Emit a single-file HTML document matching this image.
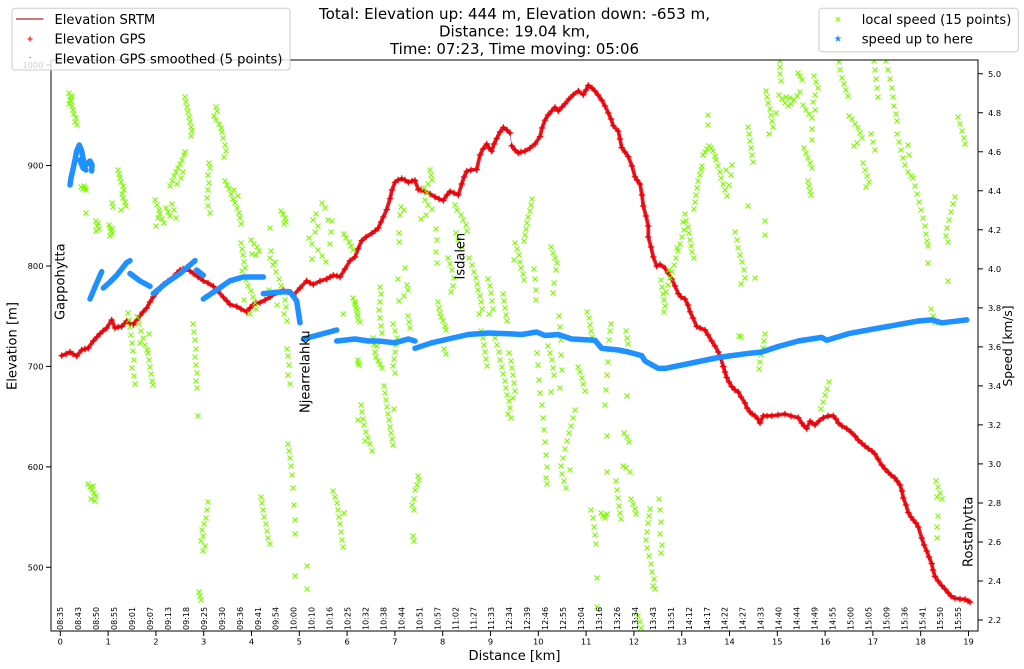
<!DOCTYPE html>
<html><head><meta charset="utf-8"><style>
body{margin:0;background:#fff}
svg{display:block}
text{font-family:"DejaVu Sans","Liberation Sans",sans-serif;fill:#000}
</style></head><body>
<svg width="1024" height="669" viewBox="0 0 1024 669" xmlns="http://www.w3.org/2000/svg">
<defs>
<clipPath id="c"><rect x="51" y="60" width="927" height="571"/></clipPath>
<marker id="pl" markerUnits="userSpaceOnUse" markerWidth="8" markerHeight="8" refX="4" refY="4" overflow="visible"><path d="M0.8 4h6.4M4 0.8v6.4" stroke="#ff0000" stroke-width="1.2" fill="none"/></marker>
<marker id="gx" markerUnits="userSpaceOnUse" markerWidth="7" markerHeight="7" refX="3.5" refY="3.5" overflow="visible"><path d="M1 1L6 6M6 1L1 6" stroke="#7cfc00" stroke-width="1.2" fill="none"/></marker>
</defs>
<rect width="1024" height="669" fill="#fff"/>

<g clip-path="url(#c)">
<g fill="none" stroke-linejoin="round" stroke-linecap="round">
<polyline stroke="#ff1a1a" stroke-width="3.8" marker-start="url(#pl)" marker-mid="url(#pl)" marker-end="url(#pl)" points="61.7,355.6 66,354 70,352 73,354 76.7,356 81.7,350 85,349 88.3,348 93.3,341 97,337 100,333.7 103,331 106.7,328 111.7,320 115,328 118,327 121.7,326.4 126.7,321 130,323 133.3,324.6 137,320 140,315.5 143,312 146.7,308 150,302 153.3,297 158,291 163.3,284.5 168,281 173.3,277 177,273 180,270 183,269 186.7,268.8 190,271 193.3,273.5 198,277 203.3,280.8 208,283 213.3,286.3 218,291 223.3,297.2 227,301 230,304.5 236.7,306.4 241,309 246.7,311.8 250,308 253.3,304.5 256,303 260,302.7 265,300 270,297.2 276,293 283.3,290 288,292 293.3,295.4 300,288 306.7,280.8 310,283 313.3,284.5 320,281 326.7,279 330,277 333.3,275.3 337,276 340,277 345,269 350,260.7 355,257 358,249 361.7,240.7 366,237 371.7,233.4 375,231 378.3,228 381,222 383.3,217 386.7,209.6 390,198.7 392,190 395,182.3 398,180 401.7,178.6 405,180 408.3,182.3 412,181 415,180.4 418.3,189.6 421,190 425,191.4 430,194 435,196.9 439,199 443.3,200.5 447,195 450,191.4 454,193 458.3,195 461.7,184 464,177 466.7,171.3 471,170 476.7,169.5 480,154.9 483,149 486.7,144 489,148 491.7,151.2 494,144 496.7,138.5 500,132 503.3,127.5 507,130 510,133"/>
<polyline stroke="#ff1a1a" stroke-width="3.8" marker-start="url(#pl)" marker-mid="url(#pl)" marker-end="url(#pl)" points="511.7,145.8 515,150 518.3,153 521,152 525,151.2 530,148 535,144 540,136.6 542,128 545,120.2 548,115 551.7,111 555,107.4 558.3,111 562,107 565,103.8 569,99 573.3,94.7 578.3,91 583.3,94.7 586,90 588.3,85.5 592,88 595,91 598,95 601.7,100.1 605,106 608.3,113 611,119 613.3,125.7 618.3,131.2 620,139 621.7,147.6 625,152 628.3,156.7 632,166 635,176.8 637,180 640,184 642,195 643.3,206 646,216 648.3,226 648.3,237 651,247 653.3,257 656.7,266.2 660,264.4 665,268 668,273 671.7,279 675,286 678.3,293.6 681,297 685,299 688,305 690,311.8 693,318 696.7,326.4 700,328 705,330 708,335 711.7,341 715,346 718.3,352 721,359 723.3,366.6 725,372 726.7,377.5 729,382 731.7,386.6 735,390 738.3,392 741,397 745,403 747,408 750,412 752,414 755,415.8 758,419 760,423 763.3,415.8 767,416 771.7,415.8 778,415 785,414 791,416 798.3,417.7 801.7,423 804,426 806.7,428.6 810,421.3 812,423 815,425 819,421 823.3,417.7 828,416 833.3,415.8 836,419 838.3,423 842,426 846.7,428.6 851,432 855,436 858,440 861.7,443.2 865,446 868.3,448.7 872,451 875,454 878,459 881.7,465 885,469 888.3,472.4 891,475 895,478 897,481 900,485 902,491 903.3,498 906,505 908.3,512.6 911,517 913.3,520 916,523 918.3,527 921.7,538 924,545 926.7,551 929,557 931.7,563.6 933,570 935,576.4 938,581 941.7,585.5 945,589 948.3,593 951,596 955,598.3 960,599 965,599.4 968,601 970,602"/>
<polyline stroke="#6a1450" stroke-width="1" stroke-opacity="0.5" points="61.7,355.6 70,352 76.7,356 81.7,350 88.3,348 93.3,341 100,333.7 106.7,328 111.7,320 115,328 121.7,326.4 126.7,321 133.3,324.6 140,315.5 146.7,308 153.3,297 163.3,284.5 173.3,277 180,270 186.7,268.8 193.3,273.5 203.3,280.8 213.3,286.3 223.3,297.2 230,304.5 236.7,306.4 246.7,311.8 253.3,304.5 260,302.7 270,297.2 283.3,290 293.3,295.4 306.7,280.8 313.3,284.5 326.7,279 333.3,275.3 340,277 350,260.7 355,257 361.7,240.7 371.7,233.4 378.3,228 383.3,217 386.7,209.6 390,198.7 395,182.3 401.7,178.6 408.3,182.3 415,180.4 418.3,189.6 425,191.4 435,196.9 443.3,200.5 450,191.4 458.3,195 461.7,184 466.7,171.3 476.7,169.5 480,154.9 486.7,144 491.7,151.2 496.7,138.5 503.3,127.5 510,133 511.7,145.8 518.3,153 525,151.2 535,144 540,136.6 545,120.2 551.7,111 555,107.4 558.3,111 565,103.8 573.3,94.7 578.3,91 583.3,94.7 588.3,85.5 595,91 601.7,100.1 608.3,113 613.3,125.7 618.3,131.2 621.7,147.6 628.3,156.7 635,176.8 640,184 643.3,206 648.3,226 648.3,237 653.3,257 656.7,266.2 660,264.4 665,268 671.7,279 678.3,293.6 685,299 690,311.8 696.7,326.4 705,330 711.7,341 718.3,352 723.3,366.6 726.7,377.5 731.7,386.6 738.3,392 745,403 750,412 755,415.8 760,423 763.3,415.8 771.7,415.8 785,414 798.3,417.7 801.7,423 806.7,428.6 810,421.3 815,425 823.3,417.7 833.3,415.8 838.3,423 846.7,428.6 855,436 861.7,443.2 868.3,448.7 875,454 881.7,465 888.3,472.4 895,478 900,485 903.3,498 908.3,512.6 913.3,520 918.3,527 921.7,538 926.7,551 931.7,563.6 935,576.4 941.7,585.5 948.3,593 955,598.3 965,599.4 970,602"/>
</g>

<polyline fill="none" stroke="none" marker-start="url(#gx)" marker-mid="url(#gx)" marker-end="url(#gx)" points="69,93 70,97 72,96 71,101 69,104 72,106 73,110 74,114 76,118 75,122 77,125 70,100 81,187 83,189 85,188 86,190 84,186 86,213 96,221 98,223 97,226 99,229 96,231 109,225 110,228 111,231 112,234 110,236 112,229 118,170 119,174 120,178 121,182 123,186 124,190 122,194 123,198 125,202 126,206 112,203 113,207 121,210 155,200 157,205 159,210 160,214 162,219 164,223 156,226 166,208 168,212 170,216 172,204 174,210 176,218 158,218 170,186 172,181 174,176 176,172 178,168 180,164 182,160 184,155 185,152 177,184 181,178 183,172 185,97 186,102 187,107 188,112 189,117 190,122 191,127 192,131 191,136 209,163 210,168 208,175 209,183 208,190 207,198 208,206 210,213 216,107 217,111 214,116 216,120 219,124 221,128 222,132 223,138 225,145 226,151 224,157 225,181 227,185 229,189 231,194 233,199 235,203 237,208 239,213 240,218 241,224 234,190 238,196 241,243 242,249 243,255 244,262 245,268 242,271 251,240 254,244 257,247 259,251 256,255 252,254 246,280 248,286 251,291 253,297 255,303 256,309 250,314 244,300 271,251 270,258 273,265 276,272 279,279 281,286 283,293 285,300 286,307 284,314 287,321 277,305 269,290 275,262 281,211 283,214 285,218 286,222 284,224 270,228 322,203 325,208 316,214 313,220 318,226 315,232 309,238 312,244 318,250 322,256 326,262 330,244 331,232 328,220 312,259 332,221 344,234 346,238 349,242 351,246 353,250 343,314 353,298 355,304 357,310 358,316 360,322 358,360 359,365 128,313 129,320 130,327 131,335 132,343 133,351 134,360 132,368 134,376 135,384 137,317 139,324 141,331 143,338 145,345 147,350 140,343 149,334 148,353 149,360 150,367 151,374 152,381 153,385 193,324 194,332 195,340 196,349 195,357 196,365 197,373 196,381 197,388 198,416 88,484 90,487 92,490 94,493 96,496 91,499 95,501 93,486 208,502 207,510 206,518 204,524 202,530 203,536 201,541 205,546 203,551 199,592 200,596 201,600 261,497 262,503 263,510 264,517 266,524 267,531 268,538 270,544 288,444 289,451 290,458 291,466 292,475 293,488 294,505 295,520 295,534 295,576 287,349 288,356 289,365 288,375 290,384 307,566 307,589 333,491 335,497 337,503 338,510 339,517 340,524 341,532 342,540 343,547 344,513 358,363 358,420 355,302 356,308 357,314 358,320 361,405 362,412 363,419 364,425 366,432 368,438 370,444 372,451 365,441 373,338 374,345 375,352 376,357 378,361 380,364 382,368 377,346 380,287 381,294 380,302 379,310 380,318 381,326 382,333 384,386 385,393 386,400 387,407 388,414 389,420 390,427 391,433 392,439 393,445 394,409 393,324 395,331 397,338 396,345 395,352 394,359 393,366 395,373 401,207 404,210 400,215 399,233 399,242 405,268 398,279 407,285 408,290 404,296 399,301 408,316 409,322 410,328 418,476 419,480 417,485 415,490 414,499 412,505 414,510 413,536 414,541 430,170 431,175 432,180 428,184 424,188 427,193 425,200 428,205 432,209 426,215 421,219 436,229 437,240 436,252 437,263 438,302 439,308 440,313 441,317 443,321 445,326 446,330 444,349 446,354 448,258 450,264 452,270 454,278 453,286 451,292 455,205 457,210 461,215 463,220 466,225 467,231 456,233 458,240 462,247 469,258 472,265 474,272 476,278 477,284 478,290 480,296 481,302 482,309 479,314 481,331 483,338 484,345 485,352 486,359 487,366 488,279 490,286 491,293 492,301 493,309 489,314 495,338 497,345 499,352 500,360 502,367 503,374 505,381 506,388 507,395 509,401 510,408 508,414 511,418 503,294 504,301 505,308 506,315 507,321 509,353 511,361 512,368 513,375 514,383 515,391 513,398 515,243 517,249 519,255 520,262 521,268 523,274 524,280 514,260 532,199 531,205 530,211 528,217 527,223 526,229 525,235 524,241 534,269 535,279 536,290 536,300 537,353 538,365 539,380 540,393 542,405 543,418 544,430 545,442 546,455 547,467 546,478 547,484 548,346 550,353 552,360 553,368 554,375 551,392 551,247 553,253 555,258 557,263 556,270 554,283 553,293 559,316 560,327 561,340 561,355 562,370 560,388 575,410 573,418 571,426 569,433 567,441 565,449 563,458 561,466 562,474 564,481 566,488 570,470 578,367 580,372 582,378 583,384 585,391 587,312 589,318 590,325 591,331 592,337 591,510 593,518 594,527 595,535 596,544 597,578 597,607 601,513 603,516 605,518 607,514 611,324 610,331 609,340 610,350 608,362 607,375 606,390 605,405 607,436 607,472 616,481 617,490 618,498 619,506 620,513 621,519 623,466 626,468 624,433 627,437 629,442 626,331 627,338 628,344 627,396 631,499 633,504 635,509 636,514 630,472 650,509 649,516 648,523 647,532 646,540 647,548 649,556 651,564 652,572 654,579 653,586 655,589 659,499 660,510 661,522 660,534 662,545 661,553 661,280 662,287 663,294 664,300 665,306 664,312 638,616 640,622 641,628 666,292 668,285 670,278 672,272 674,265 676,258 678,251 680,244 682,237 684,230 683,222 685,214 669,270 677,248 686,221 688,227 689,233 690,240 691,246 692,252 694,258 694,209 695,202 696,195 697,188 698,181 700,175 701,170 702,166 703,155 705,152 707,149 709,146 711,148 713,151 715,156 708,115 708,125 716,160 718,166 720,172 721,178 723,184 725,190 727,196 729,185 731,175 732,165 726,170 735,232 737,240 738,248 740,255 742,262 744,270 745,278 741,284 748,127 749,134 750,141 751,148 752,155 753,162 748,206 755,278 739,336 741,337 765,334 764,341 763,348 761,355 760,362 759,369 765,221 765,235 766,91 767,97 768,103 770,109 771,115 772,121 773,127 769,134 776,113 779,95 782,99 785,103 788,106 791,104 794,100 797,96 800,92 786,97 790,98 780,61 780,67 780,74 781,81 798,73 800,76 802,80 803,105 806,110 809,114 812,118 804,148 806,153 808,158 810,163 812,168 808,181 809,186 810,191 811,195 814,76 816,82 818,88 815,95 813,102 815,110 812,129 812,140 821,409 823,402 825,395 827,389 829,382 839,62 840,70 842,78 844,84 846,90 848,96 849,116 852,119 855,124 858,128 860,133 862,138 857,143 854,146 863,163 865,170 867,176 869,182 866,187 871,134 873,142 875,150 874,61 875,70 876,79 877,88 878,97 886,61 888,70 890,79 892,88 893,97 894,106 896,114 897,121 897,134 899,142 901,150 903,158 905,165 908,172 911,176 908,145 909,155 913,178 915,186 917,194 919,202 921,210 923,218 925,226 926,234 927,241 928,246 928,263 931,309 933,316 935,323 936,481 938,487 940,493 942,499 937,497 938,516 937,527 937,538 955,197 953,204 951,212 949,220 947,228 946,236 948,242 948,281 958,117 960,124 962,131 964,138 965,144"/>

<g fill="none" stroke="#1e90ff" stroke-width="5.5" stroke-linecap="round" stroke-linejoin="round">
<polyline points="70,185 71,178 73.3,168 75,160 76.7,151 79.3,145 81.7,151 83,158 85,166 87,164 90,161 92,165 91.7,171"/>
<polyline points="80,160 83,168 86,170"/>
<polyline points="90,299 95,287 101.7,271.7"/>
<polyline points="103.3,288 110,282 116.7,275.3 126.7,262.6 130,260.7"/>
<polyline points="130,273.5 140,281 150,286.3"/>
<polyline points="153.3,293.6 166.7,282.6 180,273.5 195,260.7"/>
<polyline points="196.7,270 203.3,275.3"/>
<polyline points="203.3,299 216.7,290 230,280.8 243.3,277 263.3,277"/>
<polyline points="263.3,293.6 283.3,291.8 290,291.8 296.7,301 300,322.8"/>
<polyline points="303.3,339 336.7,330"/>
<polyline points="336.7,341 355,339 368.3,341 378.3,341 395,342.8 408.3,339 415,341"/>
<polyline points="415,348.3 431.7,342.8 448.3,339 468.3,334.5 488.3,333 508.3,333.7 521.7,334.5 536.7,332 545,335.5 558.3,334.5 571.7,339 595,340.3 601.7,348.3 618.3,350 628.3,352 641.7,355.6 645,361 658.3,368.4 665,368.4 691.7,363 718.3,357.5 745,353.8 761.7,352 778.3,346.5 798.3,341 821.7,337.4 826.7,340.3 848.3,333.7 871.7,329.3 898.3,324.6 918.3,321 931.7,319.9 941.7,322.8 955,321.3 966.7,319.9"/>
</g>
</g>

<g font-size="13">
<text transform="translate(64.5,320) rotate(-90)">Gappohytta</text>
<text transform="translate(309.5,413) rotate(-90)">Njearrelahku</text>
<text transform="translate(464.5,279.5) rotate(-90)">Isdalen</text>
<text transform="translate(972.5,567) rotate(-90)">Rostahytta</text>
</g>

<g font-size="8">
<text transform="translate(63.2,630) rotate(-90)">08:35</text>
<text transform="translate(81.16,630) rotate(-90)">08:43</text>
<text transform="translate(99.12,630) rotate(-90)">08:50</text>
<text transform="translate(117.08,630) rotate(-90)">08:55</text>
<text transform="translate(135.04,630) rotate(-90)">09:01</text>
<text transform="translate(153,630) rotate(-90)">09:07</text>
<text transform="translate(170.96,630) rotate(-90)">09:13</text>
<text transform="translate(188.92,630) rotate(-90)">09:18</text>
<text transform="translate(206.88,630) rotate(-90)">09:25</text>
<text transform="translate(224.84,630) rotate(-90)">09:30</text>
<text transform="translate(242.8,630) rotate(-90)">09:36</text>
<text transform="translate(260.76,630) rotate(-90)">09:41</text>
<text transform="translate(278.72,630) rotate(-90)">09:54</text>
<text transform="translate(296.68,630) rotate(-90)">10:00</text>
<text transform="translate(314.64,630) rotate(-90)">10:10</text>
<text transform="translate(332.6,630) rotate(-90)">10:16</text>
<text transform="translate(350.56,630) rotate(-90)">10:25</text>
<text transform="translate(368.52,630) rotate(-90)">10:32</text>
<text transform="translate(386.48,630) rotate(-90)">10:38</text>
<text transform="translate(404.44,630) rotate(-90)">10:44</text>
<text transform="translate(422.4,630) rotate(-90)">10:51</text>
<text transform="translate(440.36,630) rotate(-90)">10:57</text>
<text transform="translate(458.32,630) rotate(-90)">11:02</text>
<text transform="translate(476.28,630) rotate(-90)">11:27</text>
<text transform="translate(494.24,630) rotate(-90)">11:33</text>
<text transform="translate(512.2,630) rotate(-90)">12:34</text>
<text transform="translate(530.16,630) rotate(-90)">12:39</text>
<text transform="translate(548.12,630) rotate(-90)">12:46</text>
<text transform="translate(566.08,630) rotate(-90)">12:55</text>
<text transform="translate(584.04,630) rotate(-90)">13:04</text>
<text transform="translate(602,630) rotate(-90)">13:16</text>
<text transform="translate(619.96,630) rotate(-90)">13:26</text>
<text transform="translate(637.92,630) rotate(-90)">13:34</text>
<text transform="translate(655.88,630) rotate(-90)">13:43</text>
<text transform="translate(673.84,630) rotate(-90)">13:51</text>
<text transform="translate(691.8,630) rotate(-90)">14:12</text>
<text transform="translate(709.76,630) rotate(-90)">14:17</text>
<text transform="translate(727.72,630) rotate(-90)">14:22</text>
<text transform="translate(745.68,630) rotate(-90)">14:27</text>
<text transform="translate(763.64,630) rotate(-90)">14:33</text>
<text transform="translate(781.6,630) rotate(-90)">14:40</text>
<text transform="translate(799.56,630) rotate(-90)">14:44</text>
<text transform="translate(817.52,630) rotate(-90)">14:49</text>
<text transform="translate(835.48,630) rotate(-90)">14:55</text>
<text transform="translate(853.44,630) rotate(-90)">15:00</text>
<text transform="translate(871.4,630) rotate(-90)">15:05</text>
<text transform="translate(889.36,630) rotate(-90)">15:09</text>
<text transform="translate(907.32,630) rotate(-90)">15:36</text>
<text transform="translate(925.28,630) rotate(-90)">15:41</text>
<text transform="translate(943.24,630) rotate(-90)">15:50</text>
<text transform="translate(961.2,630) rotate(-90)">15:55</text>
</g>

<rect x="51" y="60" width="927" height="571" fill="none" stroke="#000" stroke-width="1"/>
<path stroke="#000" stroke-width="1" fill="none" d="M46 65h5M46 165.5h5M46 266h5M46 366.4h5M46 466.9h5M46 567.3h5
M978 620h5M978 580.98h5M978 541.96h5M978 502.94h5M978 463.92h5M978 424.9h5M978 385.88h5M978 346.86h5M978 307.84h5M978 268.82h5M978 229.8h5M978 190.78h5M978 151.76h5M978 112.74h5M978 73.72h5
M60.3 631v5M108.1 631v5M155.9 631v5M203.7 631v5M251.5 631v5M299.3 631v5M347.1 631v5M394.9 631v5M442.7 631v5M490.5 631v5M538.3 631v5M586.1 631v5M633.9 631v5M681.7 631v5M729.5 631v5M777.3 631v5M825.1 631v5M872.9 631v5M920.7 631v5M968.5 631v5"/>

<g font-size="8.3" text-anchor="end">
<text x="43.5" y="68">1000</text>
<text x="43.5" y="168.5">900</text>
<text x="43.5" y="269">800</text>
<text x="43.5" y="369.4">700</text>
<text x="43.5" y="469.9">600</text>
<text x="43.5" y="570.3">500</text>
</g>
<g font-size="8.3">
<text x="988" y="623">2.2</text>
<text x="988" y="584">2.4</text>
<text x="988" y="545">2.6</text>
<text x="988" y="506">2.8</text>
<text x="988" y="467">3.0</text>
<text x="988" y="428">3.2</text>
<text x="988" y="389">3.4</text>
<text x="988" y="350">3.6</text>
<text x="988" y="311">3.8</text>
<text x="988" y="272">4.0</text>
<text x="988" y="233">4.2</text>
<text x="988" y="194">4.4</text>
<text x="988" y="155">4.6</text>
<text x="988" y="116">4.8</text>
<text x="988" y="77">5.0</text>
</g>
<g font-size="8.3" text-anchor="middle">
<text x="60.3" y="644.7">0</text>
<text x="108.1" y="644.7">1</text>
<text x="155.9" y="644.7">2</text>
<text x="203.7" y="644.7">3</text>
<text x="251.5" y="644.7">4</text>
<text x="299.3" y="644.7">5</text>
<text x="347.1" y="644.7">6</text>
<text x="394.9" y="644.7">7</text>
<text x="442.7" y="644.7">8</text>
<text x="490.5" y="644.7">9</text>
<text x="538.3" y="644.7">10</text>
<text x="586.1" y="644.7">11</text>
<text x="633.9" y="644.7">12</text>
<text x="681.7" y="644.7">13</text>
<text x="729.5" y="644.7">14</text>
<text x="777.3" y="644.7">15</text>
<text x="825.1" y="644.7">16</text>
<text x="872.9" y="644.7">17</text>
<text x="920.7" y="644.7">18</text>
<text x="968.5" y="644.7">19</text>
</g>

<text x="514.5" y="660" font-size="13.1" text-anchor="middle">Distance [km]</text>
<text transform="translate(16.7,346) rotate(-90)" font-size="13.1" text-anchor="middle">Elevation [m]</text>
<text transform="translate(1012,346) rotate(-90)" font-size="12.2" text-anchor="middle">Speed [km/s]</text>

<g font-size="15" text-anchor="middle">
<text x="514.5" y="19" textLength="391" lengthAdjust="spacingAndGlyphs">Total: Elevation up: 444 m, Elevation down: -653 m,</text>
<text x="514.5" y="36.7" textLength="151" lengthAdjust="spacingAndGlyphs">Distance: 19.04 km,</text>
<text x="514.5" y="54" textLength="249" lengthAdjust="spacingAndGlyphs">Time: 07:23, Time moving: 05:06</text>
</g>

<rect x="12" y="8.3" width="278" height="61.7" rx="3" ry="3" fill="#fff" fill-opacity="0.8" stroke="#cccccc" stroke-width="1"/>
<path d="M16 19H43.3" stroke="#c04848" stroke-width="1.6"/>
<path d="M27.4 39h5.2M30 36.4v5.2" stroke="#ff0000" stroke-width="1.1"/>
<circle cx="30" cy="57.5" r="0.8" fill="#888"/>
<g font-size="13.1">
<text x="54.5" y="24">Elevation SRTM</text>
<text x="54.5" y="43.7">Elevation GPS</text>
<text x="54.5" y="63.3">Elevation GPS smoothed (5 points)</text>
</g>

<rect x="819" y="8.3" width="199.3" height="43.4" rx="3" ry="3" fill="#fff" fill-opacity="0.8" stroke="#cccccc" stroke-width="1"/>
<path d="M835.8 17.1L840.2 21.5M840.2 17.1L835.8 21.5" stroke="#7cfc00" stroke-width="1.1"/>
<polygon points="838,34.9 838.88,37.49 841.61,37.53 839.43,39.16 840.23,41.77 838,40.2 835.77,41.77 836.57,39.16 834.39,37.53 837.12,37.49" fill="#1e90ff"/>
<g font-size="13.1">
<text x="861.7" y="24">local speed (15 points)</text>
<text x="861.7" y="43.3">speed up to here</text>
</g>
</svg>
</body></html>
